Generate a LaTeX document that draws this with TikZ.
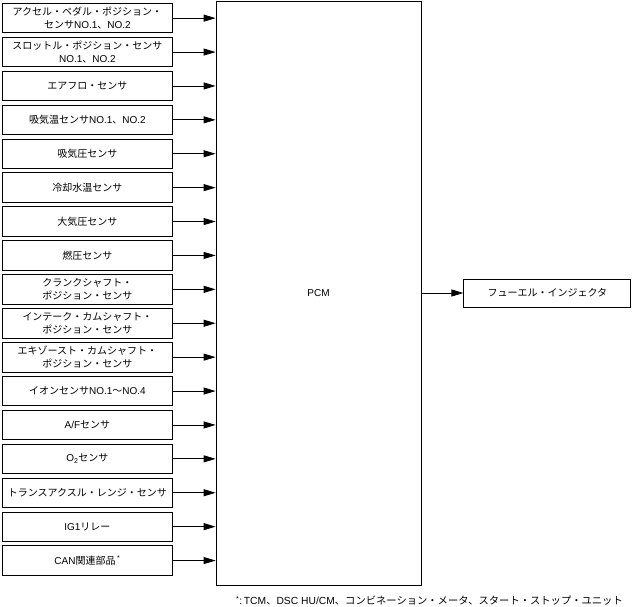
\documentclass[tikz,border=0pt]{standalone}
\usepackage{fontspec}
\setmainfont{Noto Sans CJK JP}
\newfontfamily\enfont{Liberation Sans}
\newcommand{\eng}[1]{{\enfont #1}}
\usetikzlibrary{arrows.meta, positioning}

\begin{document}
\begin{tikzpicture}[x=1pt, y=1pt, >={Triangle[length=12pt, width=7pt]}, font=\fontsize{10}{13}\selectfont, box/.style={draw, line width=0.8pt, fill=white, align=center, minimum width=170pt, minimum height=29.5pt, inner sep=1pt}, sig/.style={->, line width=0.8pt}]
\useasboundingbox (0,0) rectangle (632,-607);
% input side
\node[box, anchor=north west] (accel) at (2,-3) {アクセル・ペダル・ポジション・\\センサ\eng{NO.1}、\eng{NO.2}};
\node[box, below=3.6pt of accel] (tps) {スロットル・ポジション・センサ\\\eng{NO.1}、\eng{NO.2}};
\node[box, below=3.6pt of tps] (maf) {エアフロ・センサ};
\node[box, below=3.6pt of maf] (iat) {吸気温センサ\eng{NO.1}、\eng{NO.2}};
\node[box, below=3.6pt of iat] (map) {吸気圧センサ};
\node[box, below=3.6pt of map] (ect) {冷却水温センサ};
\node[box, below=3.6pt of ect] (baro) {大気圧センサ};
\node[box, below=3.6pt of baro] (fuelp) {燃圧センサ};
\node[box, below=3.6pt of fuelp] (ckp) {クランクシャフト・\\ポジション・センサ};
\node[box, below=3.6pt of ckp] (camin) {インテーク・カムシャフト・\\ポジション・センサ};
\node[box, below=3.6pt of camin] (camex) {エキゾースト・カムシャフト・\\ポジション・センサ};
\node[box, below=3.6pt of camex] (ion) {イオンセンサ\eng{NO.1}〜\eng{NO.4}};
\node[box, below=3.6pt of ion] (afs) {\eng{A/F}センサ};
\node[box, below=3.6pt of afs] (otwo) {\eng{O\textsubscript{2}}センサ};
\node[box, below=3.6pt of otwo] (trs) {トランスアクスル・レンジ・センサ};
\node[box, below=3.6pt of trs] (igone) {\eng{IG1}リレー};
\node[box, below=3.6pt of igone] (can) {\eng{CAN}関連部品\,\textsuperscript{\eng{*}}};
% PCM and output
\node[draw, line width=0.8pt, minimum width=205pt, minimum height=584pt] (pcm) at (318.5,-293) {\eng{PCM}};
\node[box, minimum width=167pt, minimum height=28pt, right=42pt of pcm] (inj) {フューエル・インジェクタ};
\draw[sig] (accel.east) -- (accel.east -| pcm.west);
\draw[sig] (tps.east) -- (tps.east -| pcm.west);
\draw[sig] (maf.east) -- (maf.east -| pcm.west);
\draw[sig] (iat.east) -- (iat.east -| pcm.west);
\draw[sig] (map.east) -- (map.east -| pcm.west);
\draw[sig] (ect.east) -- (ect.east -| pcm.west);
\draw[sig] (baro.east) -- (baro.east -| pcm.west);
\draw[sig] (fuelp.east) -- (fuelp.east -| pcm.west);
\draw[sig] (ckp.east) -- (ckp.east -| pcm.west);
\draw[sig] (camin.east) -- (camin.east -| pcm.west);
\draw[sig] (camex.east) -- (camex.east -| pcm.west);
\draw[sig] (ion.east) -- (ion.east -| pcm.west);
\draw[sig] (afs.east) -- (afs.east -| pcm.west);
\draw[sig] (otwo.east) -- (otwo.east -| pcm.west);
\draw[sig] (trs.east) -- (trs.east -| pcm.west);
\draw[sig] (igone.east) -- (igone.east -| pcm.west);
\draw[sig] (can.east) -- (can.east -| pcm.west);
\draw[sig] (pcm) -- (inj);
% footnote
\node[anchor=east, inner sep=0pt, font=\fontsize{10.3}{12}\selectfont] (note) at (623,-601) {\textsuperscript{\eng{*}}\eng{:\,TCM}、\eng{DSC HU/CM}、コンビネーション・メータ、スタート・ストップ・ユニット};
\end{tikzpicture}
\end{document}
